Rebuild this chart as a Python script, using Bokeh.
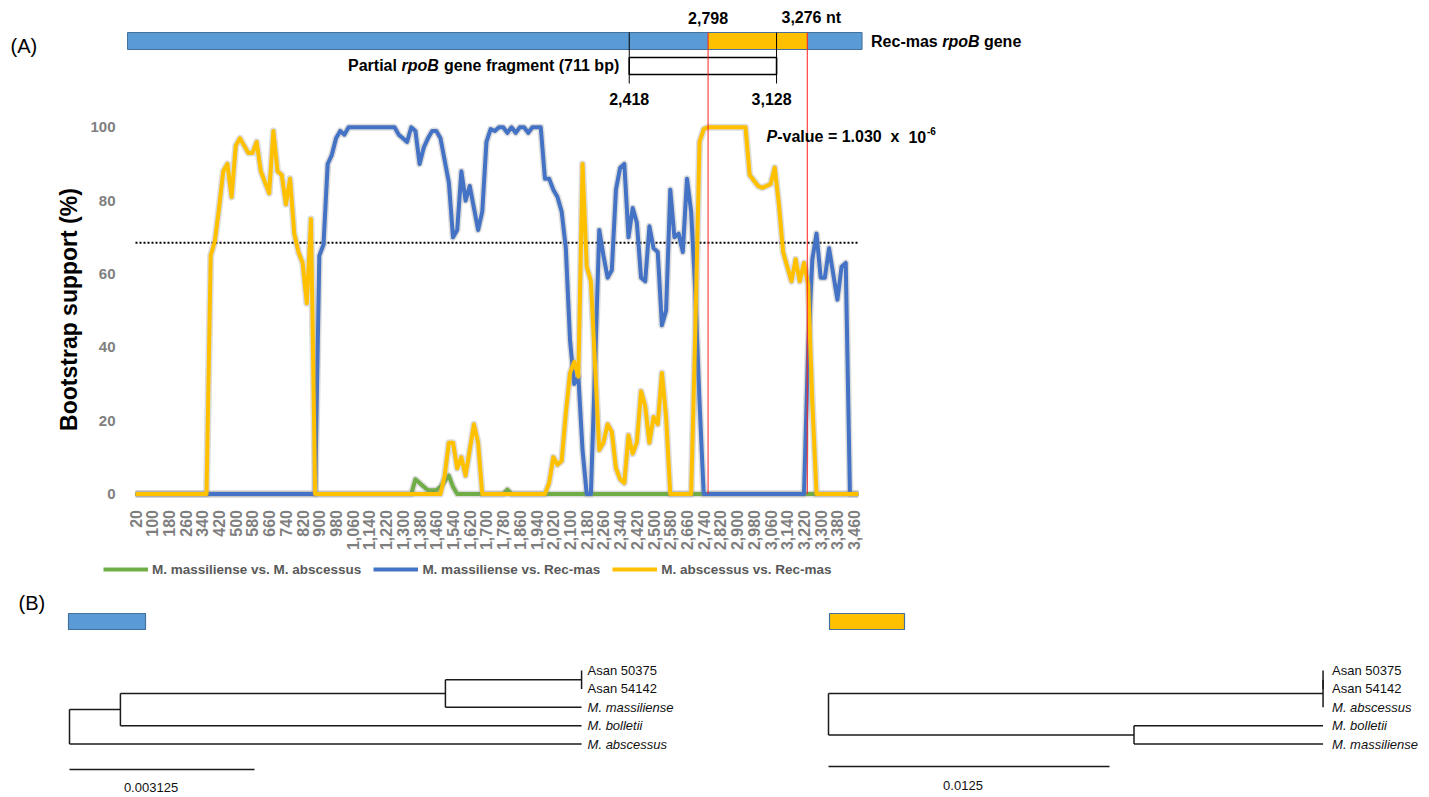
import math
from bokeh.plotting import figure
from bokeh.models import (Range1d, FixedTicker, NumeralTickFormatter, Legend, LegendItem,
                          ColumnDataSource, LinearAxis)
from bokeh.layouts import column
from bokeh.embed import file_html
from bokeh.resources import INLINE
from bokeh.core.properties import value

FONT = "Liberation Sans"

# ---------------- data ----------------
# sliding-window midpoints (nt)
window_pos = list(range(20, 3500, 20))

green_mas_vs_abs = [
    0, 0, 0, 0, 0, 0, 0, 0, 0, 0,
    0, 0, 0, 0, 0, 0, 0, 0, 0, 0,
    0, 0, 0, 0, 0, 0, 0, 0, 0, 0,
    0, 0, 0, 0, 0, 0, 0, 0, 0, 0,
    0, 0, 0, 0, 0, 0, 0, 0, 0, 0,
    0, 0, 0, 0, 0, 0, 0, 0, 0, 0,
    0, 0, 0, 0, 0, 0, 0, 4, 3, 2,
    1, 1, 1, 2, 3.5, 5, 2, 0, 0, 0,
    0, 0, 0, 0, 0, 0, 0, 0, 0, 1.2,
    0, 0, 0, 0, 0, 0, 0, 0, 0, 0,
    0, 0, 0, 0, 0, 0, 0, 0, 0, 0,
    0, 0, 0, 0, 0, 0, 0, 0, 0, 0,
    0, 0, 0, 0, 0, 0, 0, 0, 0, 0,
    0, 0, 0, 0, 0, 0, 0, 0, 0, 0,
    0, 0, 0, 0, 0, 0, 0, 0, 0, 0,
    0, 0, 0, 0, 0, 0, 0, 0, 0, 0,
    0, 0, 0, 0, 0, 0, 0, 0, 0, 0,
    0, 0, 0, 0,
]

blue_mas_vs_rec = [
    0, 0, 0, 0, 0, 0, 0, 0, 0, 0,
    0, 0, 0, 0, 0, 0, 0, 0, 0, 0,
    0, 0, 0, 0, 0, 0, 0, 0, 0, 0,
    0, 0, 0, 0, 0, 0, 0, 0, 0, 0,
    0, 0, 0, 0, 65, 68, 90, 92.5, 97, 99,
    98, 100, 100, 100, 100, 100, 100, 100, 100, 100,
    100, 100, 100, 98, 97, 96, 100, 99, 90, 94.5,
    97, 99, 99, 97, 91, 85, 70, 72, 88, 80,
    84, 78, 72, 77, 96, 99.5, 99, 100, 100, 98.5,
    100, 98.5, 100, 100, 98.5, 100, 100, 100, 86, 86,
    83, 81, 77, 67, 42, 30, 32, 12, 0, 0,
    35, 72, 65, 59, 61, 83, 89, 90, 70, 78,
    74, 59, 58, 73, 67, 66, 46, 50, 83, 70,
    71, 66, 86, 77, 55, 25, 0, 0, 0, 0,
    0, 0, 0, 0, 0, 0, 0, 0, 0, 0,
    0, 0, 0, 0, 0, 0, 0, 0, 0, 0,
    0, 40, 64, 71, 59, 59, 67, 60, 53, 62,
    63, 0, 0, 0,
]

yellow_abs_vs_rec = [
    0, 0, 0, 0, 0, 0, 0, 0, 0, 0,
    0, 0, 0, 0, 0, 0, 0, 0, 65, 69,
    78, 88, 90, 81, 95, 97, 95, 93, 93, 96,
    88, 85, 82, 99, 88, 87, 79, 86, 71, 66,
    63, 52, 75, 0, 0, 0, 0, 0, 0, 0,
    0, 0, 0, 0, 0, 0, 0, 0, 0, 0,
    0, 0, 0, 0, 0, 0, 0, 0, 0, 0,
    0, 0, 0, 0, 5, 14, 14, 7, 10, 5,
    12, 19, 14, 0, 0, 0, 0, 0, 0, 0,
    0, 0, 0, 0, 0, 0, 0, 0, 0, 3,
    10, 8, 9, 22, 33, 36, 32, 90, 62, 58,
    35, 12, 14, 19, 17, 7, 4, 3, 16, 11,
    14, 28, 24, 14, 21, 19, 33, 21, 0, 0,
    0, 0, 0, 0, 45, 96, 99.5, 100, 100, 100,
    100, 100, 100, 100, 100, 100, 100, 87, 85.5, 84,
    83.5, 84, 84.5, 89, 79, 66, 62, 58, 64, 58,
    63, 57, 25, 0, 0, 0, 0, 0, 0, 0,
    0, 0, 0, 0,
]

series_labels = ["M. massiliense vs. M. abscessus",
                 "M. massiliense vs. Rec-mas",
                 "M. abscessus vs. Rec-mas"]
y_ticks = [0, 20, 40, 60, 80, 100]
x_ticks = window_pos[::4]          # 20, 100, ..., 3460
threshold = 68.5

gene_length_nt = 3540
fragment_start, fragment_end = 2418, 3128
recomb_start, recomb_end = 2798, 3276

# trees: (parent, child, branch length)
left_edges = [("root", "A", 0.00086), ("root", "M. abscessus", 0.00865),
              ("A", "B", 0.00549), ("A", "M. bolletii", 0.00779),
              ("B", "C", 0.0023), ("B", "M. massiliense", 0.0023),
              ("C", "Asan 50375", 0.0), ("C", "Asan 54142", 0.0)]
left_leaves = ["Asan 50375", "Asan 54142", "M. massiliense", "M. bolletii", "M. abscessus"]
left_scale = 0.003125

right_edges = [("root", "X", 0.0220), ("root", "D", 0.01359),
               ("X", "Y", 0.0), ("X", "M. abscessus", 0.0),
               ("Y", "Asan 50375", 0.0), ("Y", "Asan 54142", 0.0),
               ("D", "M. bolletii", 0.00841), ("D", "M. massiliense", 0.00841)]
right_leaves = ["Asan 50375", "Asan 54142", "M. abscessus", "M. bolletii", "M. massiliense"]
right_scale = 0.0125

# ---------------- layout constants (page pixels) ----------------
W = 1429
A_H, B_H = 588, 209
X0_PX, PX_PER_POS = 135.0, 4.178 / 20
Y0_PX, PX_PER_PCT = 493.5, 3.667
NT0_PX, PX_PER_NT = 127.0, 0.2075
YAXIS_PX = 125.0
BLUE, GREEN, GOLD = "#4472C4", "#70AD47", "#FFC000"


def pos_at(px):
    return window_pos[0] + (px - X0_PX) / PX_PER_POS


# ---------------- figure A ----------------
xr = Range1d(pos_at(0), pos_at(W))
yr = Range1d(-(A_H - Y0_PX) / PX_PER_PCT, Y0_PX / PX_PER_PCT)
pA = figure(width=W, height=A_H, x_range=xr, y_range=yr, x_axis_type=None, y_axis_type=None,
            output_backend="svg", toolbar_location=None, min_border=0)
pA.outline_line_color = None
pA.frame_align = False
pA.extra_x_ranges = {"nt": Range1d((0 - NT0_PX) / PX_PER_NT, (W - NT0_PX) / PX_PER_NT),
                     "px": Range1d(0, W)}
pA.extra_y_ranges = {"py": Range1d(A_H, 0)}

yax = LinearAxis(ticker=FixedTicker(ticks=y_ticks), fixed_location=pos_at(YAXIS_PX))
yax.axis_line_color = None
yax.major_tick_line_color = None
yax.minor_tick_line_color = None
yax.major_label_standoff = 4
yax.major_label_text_font = FONT
yax.major_label_text_font_size = "15px"
yax.major_label_text_font_style = "bold"
yax.major_label_text_color = "#7F7F7F"
pA.add_layout(yax, "left")

xax = LinearAxis(ticker=FixedTicker(ticks=x_ticks), formatter=NumeralTickFormatter(format="0,0"),
                 fixed_location=0)
xax.axis_line_color = None
xax.major_tick_line_color = None
xax.minor_tick_line_color = None
xax.major_label_orientation = math.pi / 2
xax.major_label_standoff = 10
xax.major_label_text_font = FONT
xax.major_label_text_font_size = "16px"
xax.major_label_text_font_style = "bold"
xax.major_label_text_color = "#7F7F7F"
pA.add_layout(xax, "below")

# threshold dotted line
pA.line(x=[window_pos[0], window_pos[-1]], y=[threshold, threshold], line_color="black",
        line_width=2, line_dash="2 2")

src = ColumnDataSource(dict(x=window_pos, g=green_mas_vs_abs, b=blue_mas_vs_rec, y=yellow_abs_vs_rec))
renderers = []
for col, color in (("g", GREEN), ("b", BLUE), ("y", GOLD)):
    pA.line("x", col, source=src, line_color="#8c8c8c", line_alpha=0.3, line_width=7,
            line_join="round")
    r = pA.line("x", col, source=src, line_color=color, line_width=4, line_join="round")
    renderers.append(r)

# gene diagram
BAR_T, BAR_B = 32, 49
pA.quad(left=[0], right=[gene_length_nt], top=[BAR_T], bottom=[BAR_B], x_range_name="nt",
        y_range_name="py", fill_color="#5B9BD5", line_color=None)
pA.quad(left=[recomb_start], right=[recomb_end], top=[BAR_T], bottom=[BAR_B], x_range_name="nt",
        y_range_name="py", fill_color=GOLD, line_color=None)
pA.quad(left=[0], right=[gene_length_nt], top=[BAR_T], bottom=[BAR_B], x_range_name="nt",
        y_range_name="py", fill_color=None, line_color="#41719C", line_width=1)
pA.segment(x0=[fragment_start, fragment_end], x1=[fragment_start, fragment_end],
           y0=[BAR_T, BAR_T], y1=[83, 83], x_range_name="nt", y_range_name="py",
           line_color="black", line_width=1)
pA.quad(left=[fragment_start], right=[fragment_end], top=[57], bottom=[74], x_range_name="nt",
        y_range_name="py", fill_color="white", line_color="black", line_width=1.6)
pA.segment(x0=[recomb_start, recomb_end], x1=[recomb_start, recomb_end],
           y0=[BAR_T, BAR_T], y1=[Y0_PX, Y0_PX], x_range_name="nt", y_range_name="py",
           line_color="#FF2020", line_width=1)


def gtext(x, y, txt, align="center", xo=0, yo=0, style="bold", size="16px", rng=("nt", "py"),
          angle=0.0):
    pA.text(x=[x], y=[y], text=[txt], x_range_name=rng[0], y_range_name=rng[1],
            text_align=align, text_baseline="middle", x_offset=xo, y_offset=yo, angle=angle,
            text_font=value(FONT), text_font_size=size, text_font_style=style,
            text_color="black")


gtext(recomb_start, 17, f"{recomb_start:,}")
gtext(recomb_end, 17, f"{recomb_end:,} nt", xo=4)
gtext(fragment_start, 98, f"{fragment_start:,}")
gtext(fragment_end, 98, f"{fragment_end:,}", xo=-5)
fl = fragment_end - fragment_start + 1
gtext(fragment_start, 65, f"gene fragment ({fl} bp)", align="right", xo=-10)
gtext(fragment_start, 65, "rpoB", align="right", xo=-190.5, style="bold italic")
gtext(fragment_start, 65, "Partial", align="right", xo=-232.3)
gtext(gene_length_nt, 41, "Rec-mas", align="left", xo=9)
gtext(gene_length_nt, 41, "rpoB", align="left", xo=80.1, style="bold italic")
gtext(gene_length_nt, 41, "gene", align="left", xo=121.9)

PV_X, PV_Y = 766, 136
gtext(PV_X, PV_Y, "P", align="left", style="bold italic", rng=("px", "py"))
gtext(PV_X, PV_Y, "-value = 1.030", align="left", xo=10.7, rng=("px", "py"))
gtext(PV_X, PV_Y, "x", align="left", xo=124.1, rng=("px", "py"))
gtext(PV_X, PV_Y, "10", align="left", xo=141.9, rng=("px", "py"))
gtext(PV_X, PV_Y, "-6", align="left", xo=160.5, yo=-6, size="10px", rng=("px", "py"))

gtext(10, 45, "(A)", align="left", style="normal", size="20px", rng=("px", "py"))
gtext(68, 309, "Bootstrap support (%)", align="center", size="23px", rng=("px", "py"),
      angle=math.pi / 2)

legend = Legend(items=[LegendItem(label=l, renderers=[r]) for l, r in zip(series_labels, renderers)],
                orientation="horizontal", location=(103, A_H - 579), glyph_width=45, glyph_height=20,
                label_standoff=4, spacing=12, padding=0, margin=0, border_line_color=None,
                background_fill_alpha=0, label_text_font=FONT, label_text_font_size="13.5px",
                label_text_font_style="bold", label_text_color="#595959")
pA.add_layout(legend)

# ---------------- figure B (trees) ----------------
B_TOP, B_BOT = A_H, A_H + B_H
ROW0_PX, ROW_PX = 670.0, 18.4
L_ROOT_PX, L_PX_PER_SUB = 69.0, 59200.0
R_ROOT_PX, R_PX_PER_SUB = 828.0, 22480.0
pB = figure(width=W, height=B_H, x_range=Range1d(0, W), y_range=Range1d(B_BOT, B_TOP),
            x_axis_type=None, y_axis_type=None, output_backend="svg", toolbar_location=None,
            min_border=0)
pB.outline_line_color = None
pB.frame_align = False
pB.extra_x_ranges = {"lt": Range1d((0 - L_ROOT_PX) / L_PX_PER_SUB, (W - L_ROOT_PX) / L_PX_PER_SUB),
                     "rt": Range1d((0 - R_ROOT_PX) / R_PX_PER_SUB, (W - R_ROOT_PX) / R_PX_PER_SUB)}
pB.extra_y_ranges = {"rows": Range1d((B_BOT - ROW0_PX) / ROW_PX, (B_TOP - ROW0_PX) / ROW_PX)}


def draw_tree(edges, leaves, xname, label_off):
    children, blen = {}, {}
    for parent, child, bl in edges:
        children.setdefault(parent, []).append(child)
        blen[child] = bl
    xs = {"root": 0.0}

    def set_x(n):
        for c in children.get(n, []):
            xs[c] = xs[n] + blen[c]
            set_x(c)
    set_x("root")
    ys = {leaf: float(i) for i, leaf in enumerate(leaves)}

    def set_y(n):
        if n in ys:
            return ys[n]
        vals = [set_y(c) for c in children[n]]
        ys[n] = (min(vals) + max(vals)) / 2
        return ys[n]
    set_y("root")
    x0, x1, y0, y1 = [], [], [], []
    for parent, child, bl in edges:
        x0.append(xs[parent]); x1.append(xs[child]); y0.append(ys[child]); y1.append(ys[child])
    for n, ch in children.items():
        cy = [ys[c] for c in ch]
        x0.append(xs[n]); x1.append(xs[n]); y0.append(min(cy)); y1.append(max(cy))
    pB.segment(x0=x0, x1=x1, y0=y0, y1=y1, x_range_name=xname, y_range_name="rows",
               line_color="#1a1a1a", line_width=1.5)
    for leaf in leaves:
        pB.text(x=[xs[leaf]], y=[ys[leaf]], text=[leaf], x_range_name=xname, y_range_name="rows",
                x_offset=label_off, text_align="left", text_baseline="middle",
                text_font=value(FONT), text_font_size="13px",
                text_font_style="italic" if leaf.startswith("M. ") else "normal",
                text_color="#111111")


draw_tree(left_edges, left_leaves, "lt", 6)
draw_tree(right_edges, right_leaves, "rt", 9)

# scale bars
for xname, sc, bar_px, lab_px, xo in (("lt", left_scale, 769, 787, -11), ("rt", right_scale, 766, 785, -6)):
    br = (bar_px - ROW0_PX) / ROW_PX
    lr = (lab_px - ROW0_PX) / ROW_PX
    pB.line(x=[0, sc], y=[br, br], x_range_name=xname, y_range_name="rows",
            line_color="#1a1a1a", line_width=1.5)
    pB.text(x=[sc / 2], y=[lr], text=[f"{sc:g}"], x_range_name=xname, y_range_name="rows",
            x_offset=xo, text_align="center", text_baseline="middle", text_font=value(FONT),
            text_font_size="13px", text_color="#111111")

# region swatches
pB.quad(left=[68, 829], right=[145, 904], top=[613, 613], bottom=[629, 629],
        fill_color=["#5B9BD5", GOLD], line_color="#41719C", line_width=1.2)
pB.text(x=[18], y=[602], text=["(B)"], text_align="left", text_baseline="middle",
        text_font=value(FONT), text_font_size="20px", text_color="black")

layout = column(pA, pB, spacing=0)
open("out.html", "w").write(file_html(layout, INLINE))
